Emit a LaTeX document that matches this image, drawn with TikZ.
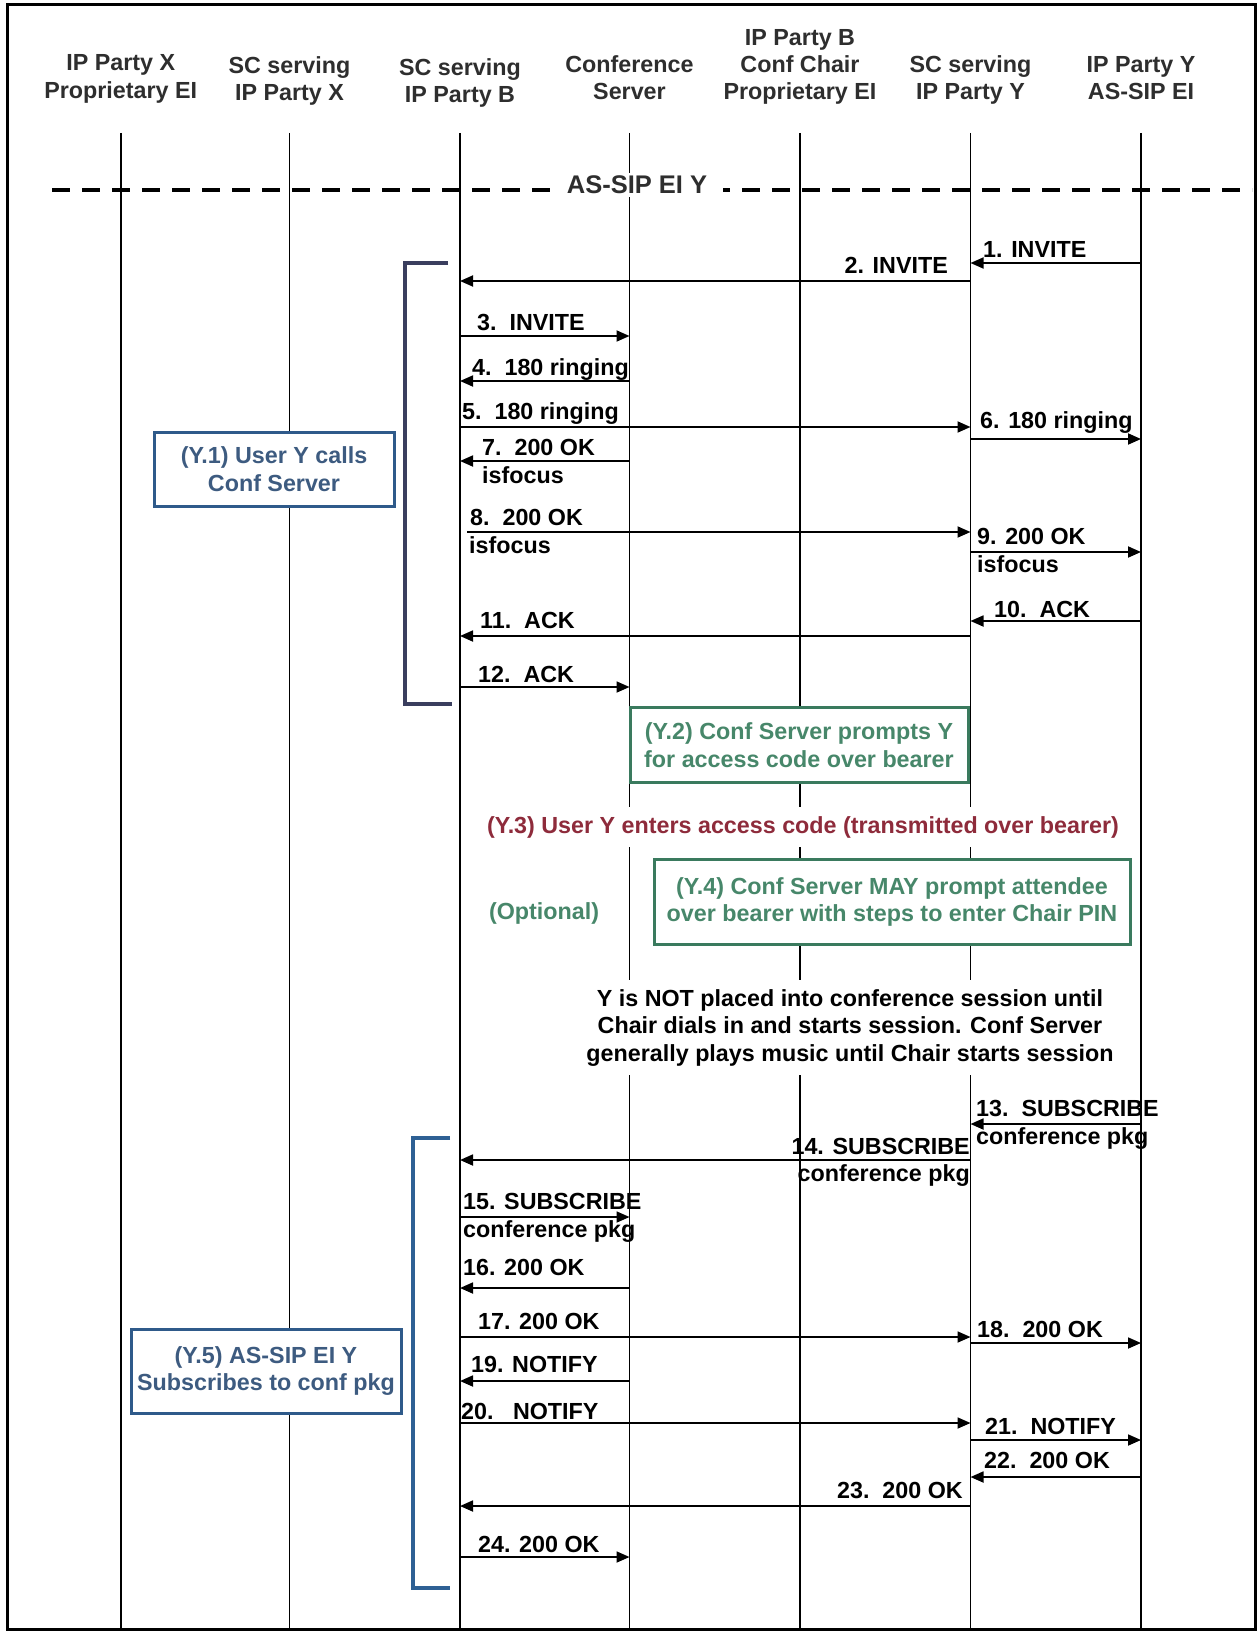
\documentclass[tikz,border=0pt]{standalone}
\usepackage{fontspec}
\setmainfont{Liberation Sans}
\usetikzlibrary{arrows.meta}
\definecolor{hdrgray}{HTML}{2E2E2E}
\definecolor{boxblue}{HTML}{2F5A8A}
\definecolor{txtblue}{HTML}{3D5B80}
\definecolor{brkA}{HTML}{3A3E5E}
\definecolor{brkB}{HTML}{2E6094}
\definecolor{boxgreen}{HTML}{3A7A5E}
\definecolor{txtgreen}{HTML}{47876A}
\definecolor{txtred}{HTML}{8E2B3B}
\newcommand\mainfs{\fontsize{23.3}{27.5}\selectfont\bfseries}
\newcommand\bigfs{\fontsize{25.5}{28}\selectfont\bfseries}
\begin{document}
\begin{tikzpicture}[x=1pt,y=-1pt,
  life/.style={line width=1.6pt},
  msg/.style={line width=1.8pt,-{Triangle[length=13pt,width=11pt]}},
  hdr/.style={font=\mainfs,text=hdrgray,inner sep=0pt,anchor=base},
  lbl/.style={font=\mainfs,text=black,inner sep=0pt,anchor=base west},
  lblr/.style={lbl,anchor=base east},
  note/.style={draw,line width=3pt,fill=white,font=\mainfs,align=center,inner sep=0pt},
  bluebox/.style={note,draw=boxblue,text=txtblue},
  greenbox/.style={note,draw=boxgreen,text=txtgreen},
  brk/.style={line width=3.5pt}
]
\useasboundingbox (0,0) rectangle (1259,1632);
\fill[white] (0,0) rectangle (1259,1632);
\draw[line width=3pt] (7,5) rectangle (1255,1629);

% headers
\node[hdr] (h1a) at (120.7,71) {IP Party X};
\node[hdr] (h1b) at (120.7,99) {Proprietary EI};
\node[hdr] (h2a) at (289.5,74) {SC serving};
\node[hdr] (h2b) at (289.5,101) {IP Party X};
\node[hdr] (h3a) at (460,76) {SC serving};
\node[hdr] (h3b) at (460,103) {IP Party B};
\node[hdr] (h4a) at (629.5,73) {Conference};
\node[hdr] (h4b) at (629.5,100) {Server};
\node[hdr] (h5a) at (800,46) {IP Party B};
\node[hdr] (h5b) at (800,73) {Conf Chair};
\node[hdr] (h5c) at (800,100) {Proprietary EI};
\node[hdr] (h6a) at (970.5,73) {SC serving};
\node[hdr] (h6b) at (970.5,100) {IP Party Y};
\node[hdr] (h7a) at (1141,73) {IP Party Y};
\node[hdr] (h7b) at (1141,100) {AS-SIP EI};

% lifelines
\foreach \i/\x in {1/120.7,2/289.5,3/460,4/629.5,5/800,6/970.5,7/1141}{
  \coordinate (L\i) at (\x,133);
  \coordinate (B\i) at (\x,1629);
}
\foreach \i in {1,...,7}{\draw[life] (L\i) -- (B\i);}

% dashed separator
\coordinate (dA) at (52,190);
\coordinate (dB) at (1252,190);
\draw[line width=4pt,dash pattern=on 18pt off 12pt] (dA) -- (dB);
\node[fill=white,font=\bigfs,text=hdrgray,inner xsep=16pt,inner ysep=3pt] (asip) at (637,185) {AS-SIP EI Y};

% brackets
\draw[brk,brkA] (448,263) -- (405,263) -- (405,704) -- (452,704);
\draw[brk,brkB] (450,1138) -- (413,1138) -- (413,1588) -- (450,1588);

% notes
\node[bluebox,minimum width=240pt,minimum height=74pt] (y1) at (274,469) {(Y.1) User Y calls\\Conf Server};
\node[greenbox,minimum width=338pt,minimum height=75pt] (y2) at (799,745) {(Y.2) Conf Server prompts Y\\for access code over bearer};
\node[fill=white,font=\mainfs,text=txtred,inner xsep=4pt,inner ysep=9pt,anchor=base] (y3) at (803,833) {(Y.3) User Y enters access code (transmitted over bearer)};
\node[greenbox,minimum width=476pt,minimum height=85pt] (y4) at (892,902) {(Y.4) Conf Server MAY prompt attendee\\over bearer with steps to enter Chair PIN};
\node[font=\mainfs,text=txtgreen,anchor=base,inner sep=0pt] (opt) at (544,919) {(Optional)};
\node[fill=white,font=\mainfs,align=center,anchor=north,inner xsep=6pt,inner ysep=9pt] (para) at (850,980) {Y is NOT placed into conference session until\\Chair dials in and starts session. Conf Server\\generally plays music until Chair starts session};
\node[bluebox,minimum width=270pt,minimum height=84pt] (y5) at (266,1371) {(Y.5) AS-SIP EI Y\\Subscribes to conf pkg};

% messages, part 1
\draw[msg] (L7 |- 0,263) -- (L6 |- 0,263);
\node[lbl] (t1) at (983,257) {1. INVITE};
\draw[msg] (L6 |- 0,281) -- (L3 |- 0,281);
\node[lblr] (t2) at (948,273) {2. INVITE};
\draw[msg] (L3 |- 0,336) -- (L4 |- 0,336);
\node[lbl] (t3) at (477,330) {3.\ \ INVITE};
\draw[msg] (L4 |- 0,381) -- (L3 |- 0,381);
\node[lbl] (t4) at (472,375) {4.\ \ 180 ringing};
\draw[msg] (L3 |- 0,427) -- (L6 |- 0,427);
\node[lbl] (t5) at (462,419) {5.\ \ 180 ringing};
\draw[msg] (L6 |- 0,439) -- (L7 |- 0,439);
\node[lbl] (t6) at (980,428) {6. 180 ringing};
\draw[msg] (L4 |- 0,461) -- (L3 |- 0,461);
\node[lbl] (t7) at (482,455) {7.\ \ 200 OK};
\node[lbl] (t7b) at (482,483) {isfocus};
\coordinate (s8) at (467,532);
\draw[msg] (s8) -- (L6 |- s8);
\node[lbl] (t8) at (470,525) {8.\ \ 200 OK};
\node[lbl] (t8b) at (469,553) {isfocus};
\draw[msg] (L6 |- 0,552) -- (L7 |- 0,552);
\node[lbl] (t9) at (977,544) {9. 200 OK};
\node[lbl] (t9b) at (977,572) {isfocus};
\draw[msg] (L7 |- 0,621) -- (L6 |- 0,621);
\node[lbl] (t10) at (994,617) {10.\ \ ACK};
\draw[msg] (L6 |- 0,636) -- (L3 |- 0,636);
\node[lbl] (t11) at (480,628) {11.\ \ ACK};
\draw[msg] (L3 |- 0,687) -- (L4 |- 0,687);
\node[lbl] (t12) at (478,682) {12.\ \ ACK};

% messages, part 2
\draw[msg] (L7 |- 0,1124) -- (L6 |- 0,1124);
\node[lbl] (t13) at (976,1116) {13.\ \ SUBSCRIBE};
\node[lbl] (t13b) at (976,1144) {conference pkg};
\draw[msg] (L6 |- 0,1160) -- (L3 |- 0,1160);
\node[lblr] (t14) at (970,1154) {14. SUBSCRIBE};
\node[lblr] (t14b) at (970,1181) {conference pkg};
\draw[msg] (L3 |- 0,1217) -- (L4 |- 0,1217);
\node[lbl] (t15) at (463,1209) {15. SUBSCRIBE};
\node[lbl] (t15b) at (463,1237) {conference pkg};
\draw[msg] (L4 |- 0,1288) -- (L3 |- 0,1288);
\node[lbl] (t16) at (463,1275) {16. 200 OK};
\draw[msg] (L3 |- 0,1337) -- (L6 |- 0,1337);
\node[lbl] (t17) at (478,1329) {17. 200 OK};
\draw[msg] (L6 |- 0,1343) -- (L7 |- 0,1343);
\node[lbl] (t18) at (977,1337) {18.\ \ 200 OK};
\draw[msg] (L4 |- 0,1381) -- (L3 |- 0,1381);
\node[lbl] (t19) at (471,1372) {19. NOTIFY};
\draw[msg] (L3 |- 0,1423) -- (L6 |- 0,1423);
\node[lbl] (t20) at (461,1419) {20.\ \ \ NOTIFY};
\draw[msg] (L6 |- 0,1440) -- (L7 |- 0,1440);
\node[lbl] (t21) at (985,1434) {21.\ \ NOTIFY};
\draw[msg] (L7 |- 0,1477) -- (L6 |- 0,1477);
\node[lbl] (t22) at (984,1468) {22.\ \ 200 OK};
\draw[msg] (L6 |- 0,1506) -- (L3 |- 0,1506);
\node[lblr] (t23) at (963,1498) {23.\ \ 200 OK};
\draw[msg] (L3 |- 0,1557) -- (L4 |- 0,1557);
\node[lbl] (t24) at (478,1552) {24. 200 OK};
\end{tikzpicture}
\end{document}
